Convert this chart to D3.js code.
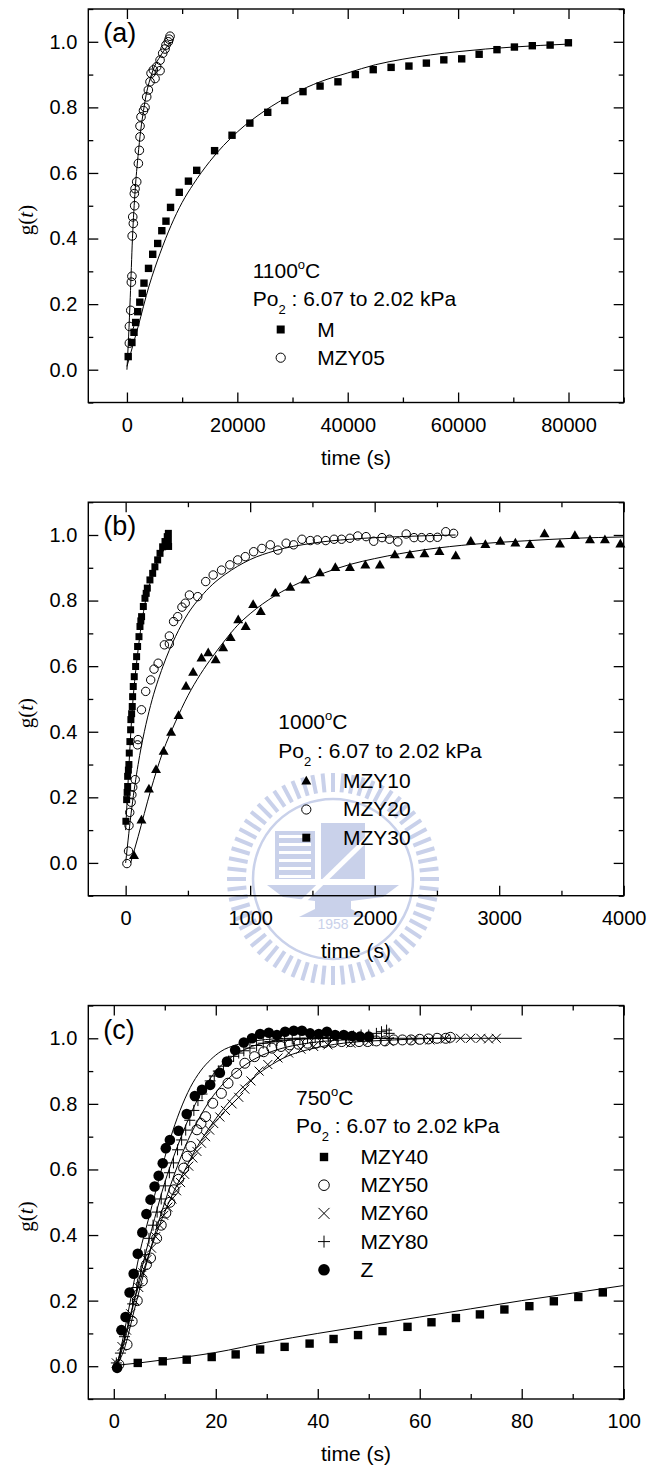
<!DOCTYPE html>
<html>
<head>
<meta charset="utf-8">
<script src="https://cdn.jsdelivr.net/npm/d3@7"></script>
<style>
  body { margin: 0; background: #fff; }
  text { font-family: "Liberation Sans", Arial, sans-serif; fill: #000; }
</style>
</head>
<body>
<svg id="fig" width="649" height="1471"></svg>
<script>
// ── Data: [time (s), g(t)] ─────────────────────────────────────────────
// (a) 1100 C
const aM = [[230,0.04],[900,0.083],[1280,0.114],[1580,0.144],[1960,0.177],[2330,0.206],[2780,0.233],
  [3090,0.264],[3910,0.309],[4670,0.352],[5570,0.385],[6320,0.424],[7070,0.453],[7900,0.495],
  [9480,0.541],[11140,0.575],[12640,0.608],[15880,0.668],[19040,0.715],[22270,0.752],[25510,0.785],
  [28590,0.821],[31900,0.848],[34990,0.865],[38230,0.878],[41380,0.9],[44620,0.915],[47860,0.922],
  [51090,0.926],[54250,0.935],[57410,0.945],[60650,0.948],[63810,0.962],[67040,0.976],[70200,0.984],
  [73440,0.988],[76670,0.99],[79980,0.997]];
const aMZY05 = [[440,0.081],[450,0.132],[690,0.181],[800,0.267],[900,0.285],[950,0.408],[1160,0.446],
  [1050,0.466],[1400,0.5],[1470,0.552],[1340,0.537],[1770,0.573],[2070,0.629],[2250,0.669],
  [2370,0.71],[2370,0.743],[2550,0.771],[3000,0.79],[3280,0.8],[3580,0.832],[3880,0.853],
  [4180,0.878],[4370,0.904],[4790,0.914],[5090,0.888],[6000,0.912],[5400,0.924],[6000,0.944],
  [6480,0.965],[6900,0.978],[7080,0.99],[7500,1.0],[7810,1.017],[7650,1.008]];
const aFitM = [[0,0.01],[2000,0.13],[4000,0.255],[6000,0.355],[8000,0.44],[10000,0.51],[12000,0.565],
  [15000,0.635],[20000,0.725],[25000,0.79],[30000,0.84],[35000,0.878],[40000,0.905],[45000,0.93],
  [50000,0.947],[55000,0.96],[60000,0.97],[65000,0.978],[70000,0.984],[75000,0.989],[80000,0.993]];
const aFitMZY05 = [[0,0],[300,0.1],[600,0.22],[1000,0.4],[1500,0.55],[2000,0.65],[2500,0.73],
  [3000,0.79],[3500,0.84],[4000,0.875],[5000,0.925],[6000,0.955],[7000,0.98],[8000,1.0]];

// (b) 1000 C
const bMZY10 = [[67,0.022],[127,0.13],[187,0.225],[244,0.284],[305,0.34],[365,0.398],[425,0.449],
  [485,0.538],[542,0.581],[609,0.624],[663,0.64],[723,0.619],[783,0.655],[843,0.687],[904,0.741],
  [964,0.72],[1024,0.787],[1085,0.766],[1202,0.822],[1322,0.84],[1443,0.862],[1560,0.884],
  [1684,0.9],[1801,0.9],[1925,0.908],[2042,0.908],[2162,0.939],[2283,0.939],[2400,0.942],
  [2520,0.949],[2651,0.936],[2772,0.98],[2889,0.97],[3009,0.98],[3130,0.975],[3247,0.97],
  [3364,1.003],[3488,0.972],[3608,0.998],[3729,0.985],[3849,0.985],[3973,0.972]];
const bMZY20 = [[10,-0.002],[23,0.036],[27,0.114],[33,0.154],[44,0.185],[50,0.208],[57,0.231],
  [77,0.254],[95,0.36],[100,0.376],[127,0.467],[161,0.523],[201,0.558],[228,0.591],[261,0.609],
  [311,0.665],[351,0.668],[351,0.692],[385,0.736],[418,0.751],[452,0.78],[479,0.792],[512,0.817],
  [579,0.812],[643,0.858],[703,0.878],[770,0.893],[837,0.909],[900,0.924],[961,0.934],[1028,0.949],
  [1094,0.959],[1162,0.97],[1222,0.954],[1289,0.975],[1349,0.97],[1416,0.987],[1483,0.983],
  [1540,0.985],[1607,0.983],[1674,0.987],[1734,0.987],[1801,0.99],[1864,0.997],[1931,0.995],
  [1992,0.981],[2059,0.992],[2119,0.987],[2186,0.979],[2253,1.003],[2316,0.992],[2377,0.992],
  [2444,0.992],[2504,0.993],[2571,1.01],[2634,1.005]];
const bMZY30 = [[2,0.127],[8,0.193],[12,0.215],[16,0.233],[16,0.264],[22,0.283],[26,0.3],[29,0.335],
  [34,0.37],[40,0.406],[42,0.437],[48,0.455],[53,0.477],[56,0.507],[61,0.538],[69,0.568],[80,0.599],
  [88,0.629],[96,0.66],[107,0.69],[115,0.721],[122,0.738],[128,0.751],[142,0.782],[155,0.807],
  [165,0.822],[174,0.838],[195,0.863],[217,0.883],[235,0.903],[257,0.924],[276,0.944],[297,0.964],
  [316,0.98],[334,0.995],[343,1.005],[343,0.985],[345,0.965]];
const bFitMZY10 = [[40,0],[100,0.08],[200,0.22],[300,0.34],[400,0.43],[500,0.51],[600,0.575],
  [700,0.63],[800,0.68],[900,0.725],[1000,0.76],[1200,0.815],[1400,0.855],[1600,0.885],[1800,0.91],
  [2000,0.928],[2400,0.955],[2800,0.972],[3200,0.982],[3600,0.99],[4000,0.994]];
const bFitMZY20 = [[0,0],[50,0.17],[100,0.3],[150,0.4],[200,0.48],[300,0.6],[400,0.69],[500,0.76],
  [600,0.81],[700,0.85],[800,0.88],[1000,0.925],[1200,0.952],[1500,0.975],[1800,0.987],[2200,0.995],
  [2650,1.0]];
const bFitMZY30 = [[0,0.1],[20,0.25],[50,0.45],[100,0.65],[150,0.78],[200,0.86],[250,0.915],
  [300,0.95],[350,0.975]];

// (c) 750 C
const cMZY40 = [[4.7,0.01],[9.6,0.015],[14.3,0.02],[19.2,0.028],[23.9,0.036],[28.7,0.051],[33.5,0.059],
  [38.4,0.069],[43.1,0.083],[47.9,0.095],[52.7,0.107],[57.6,0.12],[62.3,0.134],[67.1,0.147],
  [71.8,0.158],[76.6,0.173],[81.5,0.183],[86.3,0.198],[91.1,0.211],[95.9,0.225]];
const cMZY50 = [[1.0,0.005],[2.6,0.066],[3.6,0.137],[4.6,0.2],[5.6,0.26],[6.4,0.31],[7.2,0.33],
  [8.4,0.39],[9.3,0.43],[10.2,0.467],[11.0,0.5],[11.8,0.538],[12.7,0.57],[13.7,0.604],[14.4,0.64],
  [15.1,0.67],[16.3,0.721],[17.1,0.74],[18.0,0.761],[19.4,0.802],[21.1,0.832],[22.4,0.863],
  [24.1,0.893],[25.7,0.924],[27.6,0.944],[29.4,0.959],[31.0,0.97],[32.8,0.975],[34.5,0.98],
  [36.2,0.982],[38.0,0.985],[39.6,0.985],[41.3,0.987],[43.0,0.988],[44.7,0.99],[46.4,0.99],
  [48.1,0.99],[49.8,0.99],[51.5,0.992],[53.2,0.992],[54.9,0.995],[56.6,0.995],[58.3,0.995],
  [60.0,0.997],[61.7,0.998],[63.4,1.0],[65.1,1.0],[66.0,1.003]];
const cMZY60 = [[0.5,0.01],[1.6,0.06],[2.5,0.11],[3.3,0.16],[4.1,0.2],[4.9,0.24],[5.7,0.285],
  [6.5,0.325],[7.4,0.36],[8.2,0.395],[9.0,0.43],[9.8,0.46],[10.6,0.485],[11.4,0.51],[12.3,0.535],
  [13.1,0.56],[13.9,0.585],[14.7,0.61],[15.5,0.635],[16.3,0.655],[17.2,0.68],[18.0,0.7],[18.8,0.72],
  [19.6,0.74],[20.8,0.76],[21.9,0.78],[23.2,0.8],[24.5,0.82],[25.7,0.845],[26.9,0.87],[28.5,0.9],
  [30.2,0.92],[32.2,0.94],[34.3,0.955],[36.7,0.967],[39.2,0.975],[42,0.98],[46.5,0.985],[50,0.99],
  [54,0.99],[58.8,0.995],[62,0.995],[65,0.998],[68,1.0],[70,1.0],[72,1.0],[73.5,0.998],[75,1.0]];
const cMZY80 = [[0.5,0.01],[1.3,0.04],[2.1,0.09],[2.9,0.14],[3.7,0.19],[4.5,0.24],[5.3,0.29],
  [6.1,0.34],[6.9,0.39],[7.7,0.43],[8.5,0.47],[9.3,0.51],[10.1,0.55],[10.9,0.59],[11.7,0.62],
  [12.5,0.66],[13.3,0.69],[14.1,0.72],[14.9,0.75],[15.7,0.78],[16.5,0.81],[17.3,0.83],[18.1,0.85],
  [18.9,0.87],[19.7,0.885],[20.5,0.9],[21.5,0.915],[22.5,0.93],[23.5,0.945],[24.5,0.955],[25.5,0.962],
  [26.7,0.97],[28,0.978],[29.3,0.985],[30.6,0.99],[32,0.993],[33.5,0.995],[35,0.998],[36.5,1.0],
  [38,1.0],[39.5,1.002],[41,1.003],[42.5,1.003],[44,1.005],[45.5,1.005],[47,1.007],[48.5,1.01],
  [50,1.01],[51.5,1.015],[52.5,1.02],[53.5,1.025],[54,1.015]];
const cZ = [[0.65,-0.005],[1.5,0.11],[2.3,0.15],[3.1,0.225],[3.9,0.282],[4.7,0.343],[5.6,0.408],
  [6.4,0.464],[7.2,0.508],[8.0,0.548],[8.8,0.581],[9.6,0.619],[10.2,0.665],[11.0,0.69],[12.7,0.718],
  [14.3,0.769],[15.9,0.824],[17.3,0.843],[18.9,0.858],[20.8,0.895],[22.2,0.929],[23.8,0.964],
  [25.5,0.987],[27.1,1.0],[28.7,1.013],[30.4,1.017],[32.0,1.01],[33.6,1.02],[35.3,1.023],[36.9,1.023],
  [38.5,1.015],[40.2,1.013],[41.8,1.02],[43.4,1.01],[45.1,1.01],[46.7,1.007],[48.3,1.005],[50.0,1.005]];
const cFitMZY40 = [[0,0.002],[5,0.01],[10,0.02],[15,0.03],[20,0.042],[30,0.073],[40,0.1],[50,0.125],
  [60,0.15],[70,0.175],[80,0.2],[90,0.223],[100,0.246]];
const cFitZ = [[0.6,0],[2,0.1],[3.5,0.22],[5,0.34],[7,0.46],[9,0.58],[11,0.69],[13,0.78],[15,0.85],
  [17,0.9],[19,0.935],[21,0.96],[24,0.98],[28,0.993],[35,1.0],[45,1.0],[55,1.0]];
const cFitMZY80 = [[0.5,0],[2,0.07],[4,0.2],[6,0.33],[8,0.45],[10,0.56],[12,0.65],[14,0.73],[16,0.8],
  [18,0.855],[20,0.9],[22,0.93],[25,0.96],[28,0.98],[32,0.99],[38,0.998],[45,1.0],[54,1.0]];
const cFitMZY50 = [[0.5,0],[2,0.05],[4,0.17],[6,0.29],[8,0.4],[10,0.5],[12,0.59],[14,0.67],[16,0.735],
  [18,0.79],[20,0.835],[22,0.87],[25,0.91],[28,0.94],[32,0.965],[38,0.985],[45,0.995],[55,1.0],[66,1.0]];
const cFitMZY60 = [[0.5,0],[2,0.08],[4,0.2],[6,0.3],[8,0.39],[10,0.47],[12,0.54],[14,0.6],[16,0.66],
  [18,0.71],[20,0.755],[22,0.795],[24,0.83],[27,0.875],[30,0.91],[34,0.945],[38,0.965],[45,0.985],
  [55,0.995],[65,1.0],[80,1.0]];

// axis ticks
const yMajor = [0, 0.2, 0.4, 0.6, 0.8, 1.0];
const yMinor = [-0.1, 0.1, 0.3, 0.5, 0.7, 0.9, 1.1];
const aXMajor = [0, 20000, 40000, 60000, 80000];
const aXMinor = [10000, 30000, 50000, 70000, 90000];
const bXMajor = [0, 1000, 2000, 3000, 4000];
const bXMinor = [500, 1500, 2500, 3500];
const cXMajor = [0, 20, 40, 60, 80, 100];
const cXMinor = [10, 30, 50, 70, 90];

// ── Layout ─────────────────────────────────────────────────────────────
const L = 88.3, R = 623.7, H = 393.5;
const svg = d3.select("#fig");
svg.append("rect").attr("width", 649).attr("height", 1471).attr("fill", "#fff");

function markerPath(shape, s) {
  const p = d3.path();
  if (shape === "square") p.rect(-s, -s, 2 * s, 2 * s);
  else if (shape === "circle") { p.moveTo(s, 0); p.arc(0, 0, s, 0, 2 * Math.PI); }
  else if (shape === "triangle") { p.moveTo(0, -s * 1.1); p.lineTo(s, s * 0.65); p.lineTo(-s, s * 0.65); p.closePath(); }
  else if (shape === "plus") { p.moveTo(-s, 0); p.lineTo(s, 0); p.moveTo(0, -s); p.lineTo(0, s); }
  else if (shape === "times") { p.moveTo(-s, -s); p.lineTo(s, s); p.moveTo(-s, s); p.lineTo(s, -s); }
  return p.toString();
}
function styleMarker(sel, shape) {
  if (shape === "square" || shape === "triangle" || shape === "dot")
    sel.attr("fill", "#000").attr("stroke", "none");
  else sel.attr("fill", "none").attr("stroke", "#000").attr("stroke-width", 1);
}

// faint university seal printed behind panel (b)
function drawWatermark() {
  const wm = svg.append("g").attr("transform", "translate(333,879)");
  const col = "#c9d1ea";
  d3.range(64).forEach(i => {
    const a = i / 64 * 2 * Math.PI;
    wm.append("line")
      .attr("x1", 87 * Math.cos(a)).attr("y1", 87 * Math.sin(a))
      .attr("x2", 106 * Math.cos(a)).attr("y2", 106 * Math.sin(a))
      .attr("stroke", col).attr("stroke-width", 4);
  });
  wm.append("circle").attr("r", 80).attr("fill", "none").attr("stroke", col).attr("stroke-width", 2.5);
  wm.append("rect").attr("x", -58).attr("y", -48).attr("width", 40).attr("height", 48).attr("fill", col);
  d3.range(6).forEach(i => wm.append("rect").attr("x", -54).attr("y", -44 + i * 8)
    .attr("width", 32).attr("height", 3).attr("fill", "#fff"));
  wm.append("rect").attr("x", -12).attr("y", -56).attr("width", 44).attr("height", 56).attr("fill", col);
  wm.append("path").attr("d", "M-66,6 L66,6 L50,18 L18,22 L18,30 L34,38 L-34,38 L-18,30 L-18,22 L-50,18 Z")
    .attr("fill", col);
  wm.append("line").attr("x1", -46).attr("y1", 38).attr("x2", 40).attr("y2", -46)
    .attr("stroke", "#fff").attr("stroke-width", 5);
  wm.append("text").attr("x", 0).attr("y", 50).attr("text-anchor", "middle")
    .style("font-size", "14px").style("fill", col).text("1958");
}
drawWatermark();

function drawPanel(p) {
  const top = p.top, bottom = top + H;
  const x = d3.scaleLinear().domain(p.xDomain).range([L, R]);
  const y = d3.scaleLinear().domain([-0.1, 1.1]).range([bottom, top]);
  const g = svg.append("g");
  const line = d3.line().x(d => x(d[0])).y(d => y(d[1])).curve(d3.curveMonotoneX);

  // fitted curves
  p.fits.forEach(f => g.append("path").datum(f).attr("d", line)
    .attr("fill", "none").attr("stroke", "#000").attr("stroke-width", 1));

  // data markers
  p.series.forEach(s => {
    const shape = s.shape === "dot" ? "circle" : s.shape;
    g.append("g").selectAll("path").data(s.data).join("path")
      .attr("transform", d => `translate(${x(d[0])},${y(d[1])})`)
      .attr("d", markerPath(shape, s.size))
      .call(sel => styleMarker(sel, s.shape));
  });

  // axes: ticks point inward, mirrored on top and right
  const noDomain = sel => sel.select(".domain").remove();
  const tickStyle = sel => sel.selectAll("line").attr("stroke", "#000").attr("stroke-width", 1.3);
  const labelStyle = sel => sel.selectAll("text").style("font-size", "20px")
    .style("font-family", "'Liberation Sans', Arial, sans-serif");

  g.append("g").attr("transform", `translate(0,${bottom})`)
    .call(d3.axisBottom(x).tickValues(p.xMajor).tickSize(-10).tickPadding(15).tickFormat(d3.format("d")))
    .call(noDomain).call(tickStyle).call(labelStyle);
  g.append("g").attr("transform", `translate(0,${bottom})`)
    .call(d3.axisBottom(x).tickValues(p.xMinor).tickSize(-5).tickFormat(""))
    .call(noDomain).call(tickStyle);
  g.append("g").attr("transform", `translate(0,${top})`)
    .call(d3.axisTop(x).tickValues(p.xMajor).tickSize(-10).tickFormat(""))
    .call(noDomain).call(tickStyle);
  g.append("g").attr("transform", `translate(0,${top})`)
    .call(d3.axisTop(x).tickValues(p.xMinor).tickSize(-5).tickFormat(""))
    .call(noDomain).call(tickStyle);
  g.append("g").attr("transform", `translate(${L},0)`)
    .call(d3.axisLeft(y).tickValues(yMajor).tickSize(-10).tickPadding(11).tickFormat(d3.format(".1f")))
    .call(noDomain).call(tickStyle).call(labelStyle);
  g.append("g").attr("transform", `translate(${L},0)`)
    .call(d3.axisLeft(y).tickValues(yMinor).tickSize(-5).tickFormat(""))
    .call(noDomain).call(tickStyle);
  g.append("g").attr("transform", `translate(${R},0)`)
    .call(d3.axisRight(y).tickValues(yMajor).tickSize(-10).tickFormat(""))
    .call(noDomain).call(tickStyle);
  g.append("g").attr("transform", `translate(${R},0)`)
    .call(d3.axisRight(y).tickValues(yMinor).tickSize(-5).tickFormat(""))
    .call(noDomain).call(tickStyle);

  g.append("rect").attr("x", L).attr("y", top).attr("width", R - L).attr("height", H)
    .attr("fill", "none").attr("stroke", "#000").attr("stroke-width", 1.4);

  // axis titles
  g.append("text").attr("x", (L + R) / 2).attr("y", bottom + 62).attr("text-anchor", "middle")
    .style("font-size", "21px").text("time (s)");
  const yl = g.append("text").attr("transform", `translate(33,${top + 211}) rotate(-90)`)
    .attr("text-anchor", "middle").style("font-size", "21px")
    .style("font-family", "'Liberation Serif', 'Times New Roman', serif");
  yl.append("tspan").text("g(");
  yl.append("tspan").style("font-style", "italic").text("t");
  yl.append("tspan").text(")");

  // panel letter
  g.append("text").attr("x", L + 15).attr("y", top + 33).style("font-size", "27px").text(p.letter);

  // legend block
  const lg = g.append("g").attr("transform", `translate(${p.legend.x},${top})`);
  const t1 = lg.append("text").attr("x", 0).attr("y", p.legend.y0).style("font-size", "21px");
  t1.append("tspan").text(p.temp);
  t1.append("tspan").attr("dy", -9).style("font-size", "13px").text("o");
  t1.append("tspan").attr("dy", 9).text("C");
  const t2 = lg.append("text").attr("x", 0).attr("y", p.legend.y0 + 28.3).style("font-size", "21px");
  t2.append("tspan").text("Po");
  t2.append("tspan").attr("dy", 8).style("font-size", "13px").text("2");
  t2.append("tspan").attr("dy", -8).text(" : 6.07 to 2.02 kPa");
  p.series.filter(s => s.label).forEach((s, i) => {
    const by = p.legend.y0 + 59 + i * 28.2;
    const shape = s.shape === "dot" ? "circle" : s.shape;
    lg.append("path").attr("transform", `translate(28,${by - 7})`)
      .attr("d", markerPath(shape, s.legendSize || s.size))
      .call(sel => styleMarker(sel, s.shape));
    lg.append("text").attr("x", 64.6).attr("y", by).style("font-size", "21px").text(s.label);
  });
}

drawPanel({
  top: 9, letter: "(a)", temp: "1100", xDomain: [-7000, 90000],
  xMajor: aXMajor, xMinor: aXMinor,
  fits: [aFitM, aFitMZY05],
  series: [
    { data: aM, shape: "square", size: 3.7, label: "M", legendSize: 4 },
    { data: aMZY05, shape: "circle", size: 4.3, label: "MZY05", legendSize: 4.6 }
  ],
  legend: { x: 252.7, y0: 268.5 }
});
drawPanel({
  top: 502.2, letter: "(b)", temp: "1000", xDomain: [-300, 4000],
  xMajor: bXMajor, xMinor: bXMinor,
  fits: [bFitMZY10, bFitMZY20, bFitMZY30],
  series: [
    { data: bMZY10, shape: "triangle", size: 5, label: "MZY10" },
    { data: bMZY20, shape: "circle", size: 4.2, label: "MZY20", legendSize: 4.6 },
    { data: bMZY30, shape: "square", size: 3.5, label: "MZY30", legendSize: 4 }
  ],
  legend: { x: 278.3, y0: 729.3 - 502.2 }
});
drawPanel({
  top: 1005.5, letter: "(c)", temp: "750", xDomain: [-5, 100],
  xMajor: cXMajor, xMinor: cXMinor,
  fits: [cFitMZY40, cFitZ, cFitMZY80, cFitMZY50, cFitMZY60],
  series: [
    { data: cMZY40, shape: "square", size: 4.2, label: "MZY40" },
    { data: cMZY50, shape: "circle", size: 5, label: "MZY50", legendSize: 5.3 },
    { data: cMZY60, shape: "times", size: 4.5, label: "MZY60", legendSize: 5.5 },
    { data: cMZY80, shape: "plus", size: 5.5, label: "MZY80", legendSize: 6 },
    { data: cZ, shape: "dot", size: 5.3, label: "Z", legendSize: 5.8 }
  ],
  legend: { x: 296, y0: 1105 - 1005.5 }
});
</script>
</body>
</html>
